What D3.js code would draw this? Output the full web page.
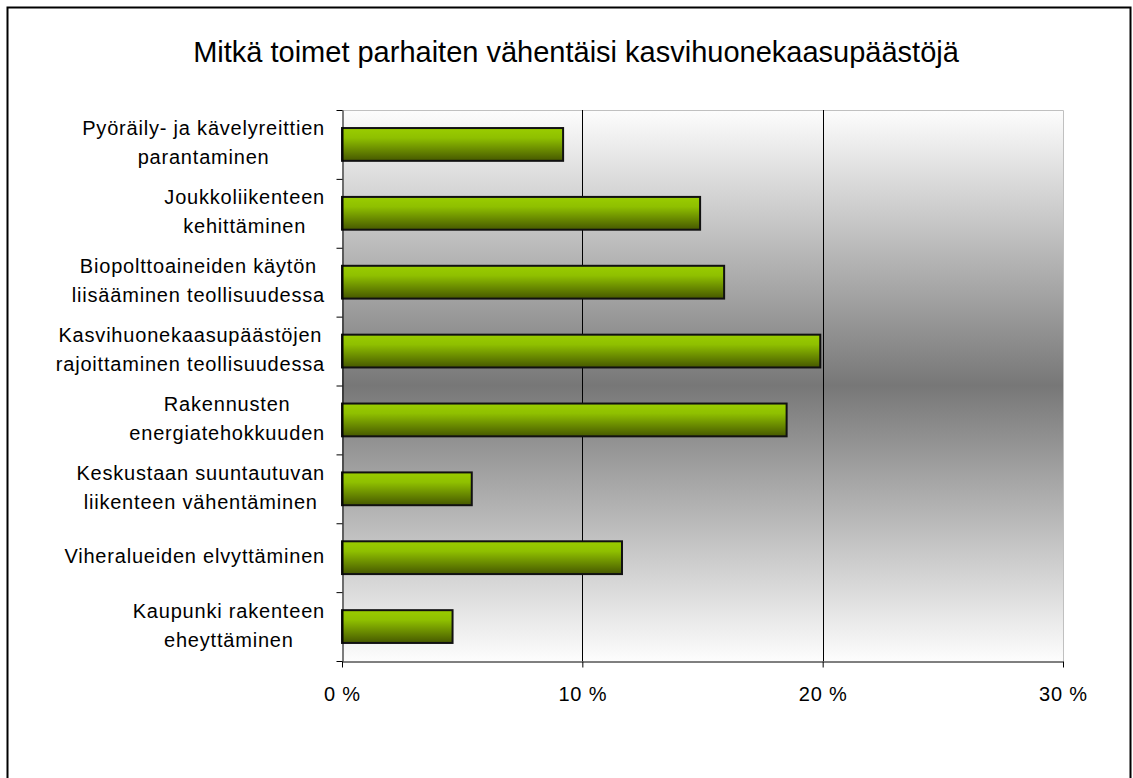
<!DOCTYPE html>
<html>
<head>
<meta charset="utf-8">
<script src="https://d3js.org/d3.v7.min.js"></script>
<style>
  body { margin: 0; background: #fff; }
  svg { display: block; font-family: Arial, "Liberation Sans", sans-serif; }
</style>
</head>
<body>
<div id="chart"></div>
<script>
// data
const title = 'Mitkä toimet parhaiten vähentäisi kasvihuonekaasupäästöjä';
const categories = [
  ['Pyöräily- ja kävelyreittien', 'parantaminen'],
  ['Joukkoliikenteen', 'kehittäminen'],
  ['Biopolttoaineiden käytön', 'liisääminen teollisuudessa'],
  ['Kasvihuonekaasupäästöjen', 'rajoittaminen teollisuudessa'],
  ['Rakennusten', 'energiatehokkuuden'],
  ['Keskustaan suuntautuvan', 'liikenteen vähentäminen'],
  ['Viheralueiden elvyttäminen'],
  ['Kaupunki rakenteen', 'eheyttäminen']
];
const values = [9.2, 14.9, 15.9, 19.9, 18.5, 5.4, 11.65, 4.6];
const xTicks = [0, 10, 20, 30];
const gridTicks = [10, 20];

(function() {
  'use strict';

  const W = 1133, H = 778;
  const plot = { left: 342, right: 1063, top: 110, bottom: 661 };

  const svg = d3.select('#chart').append('svg')
    .attr('width', W)
    .attr('height', H);

  const defs = svg.append('defs');

  // plot background: white -> grey -> white
  const bg = defs.append('linearGradient')
    .attr('id', 'bgGrad')
    .attr('x1', 0).attr('y1', 0).attr('x2', 0).attr('y2', 1);
  bg.append('stop').attr('offset', '0%').attr('stop-color', '#fdfdfd');
  bg.append('stop').attr('offset', '50%').attr('stop-color', '#777777');
  bg.append('stop').attr('offset', '100%').attr('stop-color', '#fdfdfd');

  // bar fill: yellow-green -> dark olive
  const bar = defs.append('linearGradient')
    .attr('id', 'barGrad')
    .attr('x1', 0).attr('y1', 0).attr('x2', 0).attr('y2', 1);
  bar.append('stop').attr('offset', '0%').attr('stop-color', '#9acd00');
  bar.append('stop').attr('offset', '30%').attr('stop-color', '#8fc000');
  bar.append('stop').attr('offset', '100%').attr('stop-color', '#465800');

  // outer frame
  svg.append('rect')
    .attr('x', 7.5).attr('y', 7.5)
    .attr('width', 1123).attr('height', 800)
    .attr('fill', '#fff')
    .attr('stroke', '#000')
    .attr('stroke-width', 2);

  // title
  svg.append('text')
    .attr('x', 576)
    .attr('y', 62)
    .attr('text-anchor', 'middle')
    .style('font-size', '29px')
    .style('fill', '#000')
    .text(title);

  // scales
  const x = d3.scaleLinear()
    .domain([0, 30])
    .range([plot.left, plot.right]);

  const y = d3.scaleBand()
    .domain(d3.range(categories.length))
    .range([plot.top, plot.bottom])
    .paddingInner(0.524)
    .paddingOuter(0.262);

  const yEdge = d3.scaleLinear()
    .domain([0, categories.length])
    .range([plot.top, plot.bottom]);

  // background
  svg.append('rect')
    .attr('x', plot.left).attr('y', plot.top)
    .attr('width', plot.right - plot.left)
    .attr('height', plot.bottom - plot.top)
    .attr('fill', 'url(#bgGrad)');

  // light frame top/right
  svg.append('path')
    .attr('d', `M${plot.left},${plot.top + 0.5}H${plot.right + 0.5}V${plot.bottom}`)
    .attr('fill', 'none')
    .attr('stroke', '#c0c0c0')
    .attr('stroke-width', 1);

  // gridlines
  svg.selectAll('.grid')
    .data(gridTicks)
    .enter()
    .append('line')
    .attr('class', 'grid')
    .attr('x1', d => Math.round(x(d)) + 0.5)
    .attr('x2', d => Math.round(x(d)) + 0.5)
    .attr('y1', plot.top)
    .attr('y2', plot.bottom)
    .attr('stroke', '#000')
    .attr('stroke-width', 1);

  // bars
  svg.selectAll('.bar')
    .data(values)
    .enter()
    .append('rect')
    .attr('class', 'bar')
    .attr('x', x(0))
    .attr('y', (d, i) => y(i))
    .attr('width', d => x(d) - x(0))
    .attr('height', y.bandwidth())
    .attr('fill', 'url(#barGrad)')
    .attr('stroke', '#111')
    .attr('stroke-width', 2);

  // y axis (ticks on category boundaries)
  const yAxis = svg.append('g')
    .attr('transform', `translate(${plot.left + 0.5},0)`)
    .call(d3.axisLeft(yEdge)
      .tickValues(d3.range(categories.length + 1))
      .tickSize(6)
      .tickSizeOuter(0)
      .tickFormat(''));
  yAxis.selectAll('path, line').attr('stroke', '#000');

  // x axis
  const xAxis = svg.append('g')
    .attr('transform', `translate(0,${plot.bottom + 0.5})`)
    .call(d3.axisBottom(x)
      .tickValues(xTicks)
      .tickSize(6)
      .tickSizeOuter(0)
      .tickPadding(19)
      .tickFormat(d => d + ' %'));
  xAxis.select('.domain').attr('stroke', '#000');
  xAxis.selectAll('line').attr('stroke', '#000');
  xAxis.selectAll('text')
    .attr('fill', '#000')
    .style('font-size', '20px')
    .style('letter-spacing', '0.8px')
    .style('font-family', 'Arial, "Liberation Sans", sans-serif');

  // category labels, lines centred on each other, block right-aligned
  const labelRight = 325;
  const lineGap = 29;
  categories.forEach((lines, i) => {
    const cy = y(i) + y.bandwidth() / 2;
    const t = svg.append('text')
      .attr('text-anchor', 'middle')
      .style('font-size', '20px')
      .style('letter-spacing', '0.8px')
      .style('fill', '#000');
    const spans = lines.map((line, k) => t.append('tspan')
      .attr('y', cy + 5.5 + (k - (lines.length - 1) / 2) * lineGap)
      .text(line));
    const maxW = d3.max(spans, s => s.node().getComputedTextLength());
    spans.forEach(s => s.attr('x', labelRight - maxW / 2));
  });
})();
</script>
</body>
</html>
